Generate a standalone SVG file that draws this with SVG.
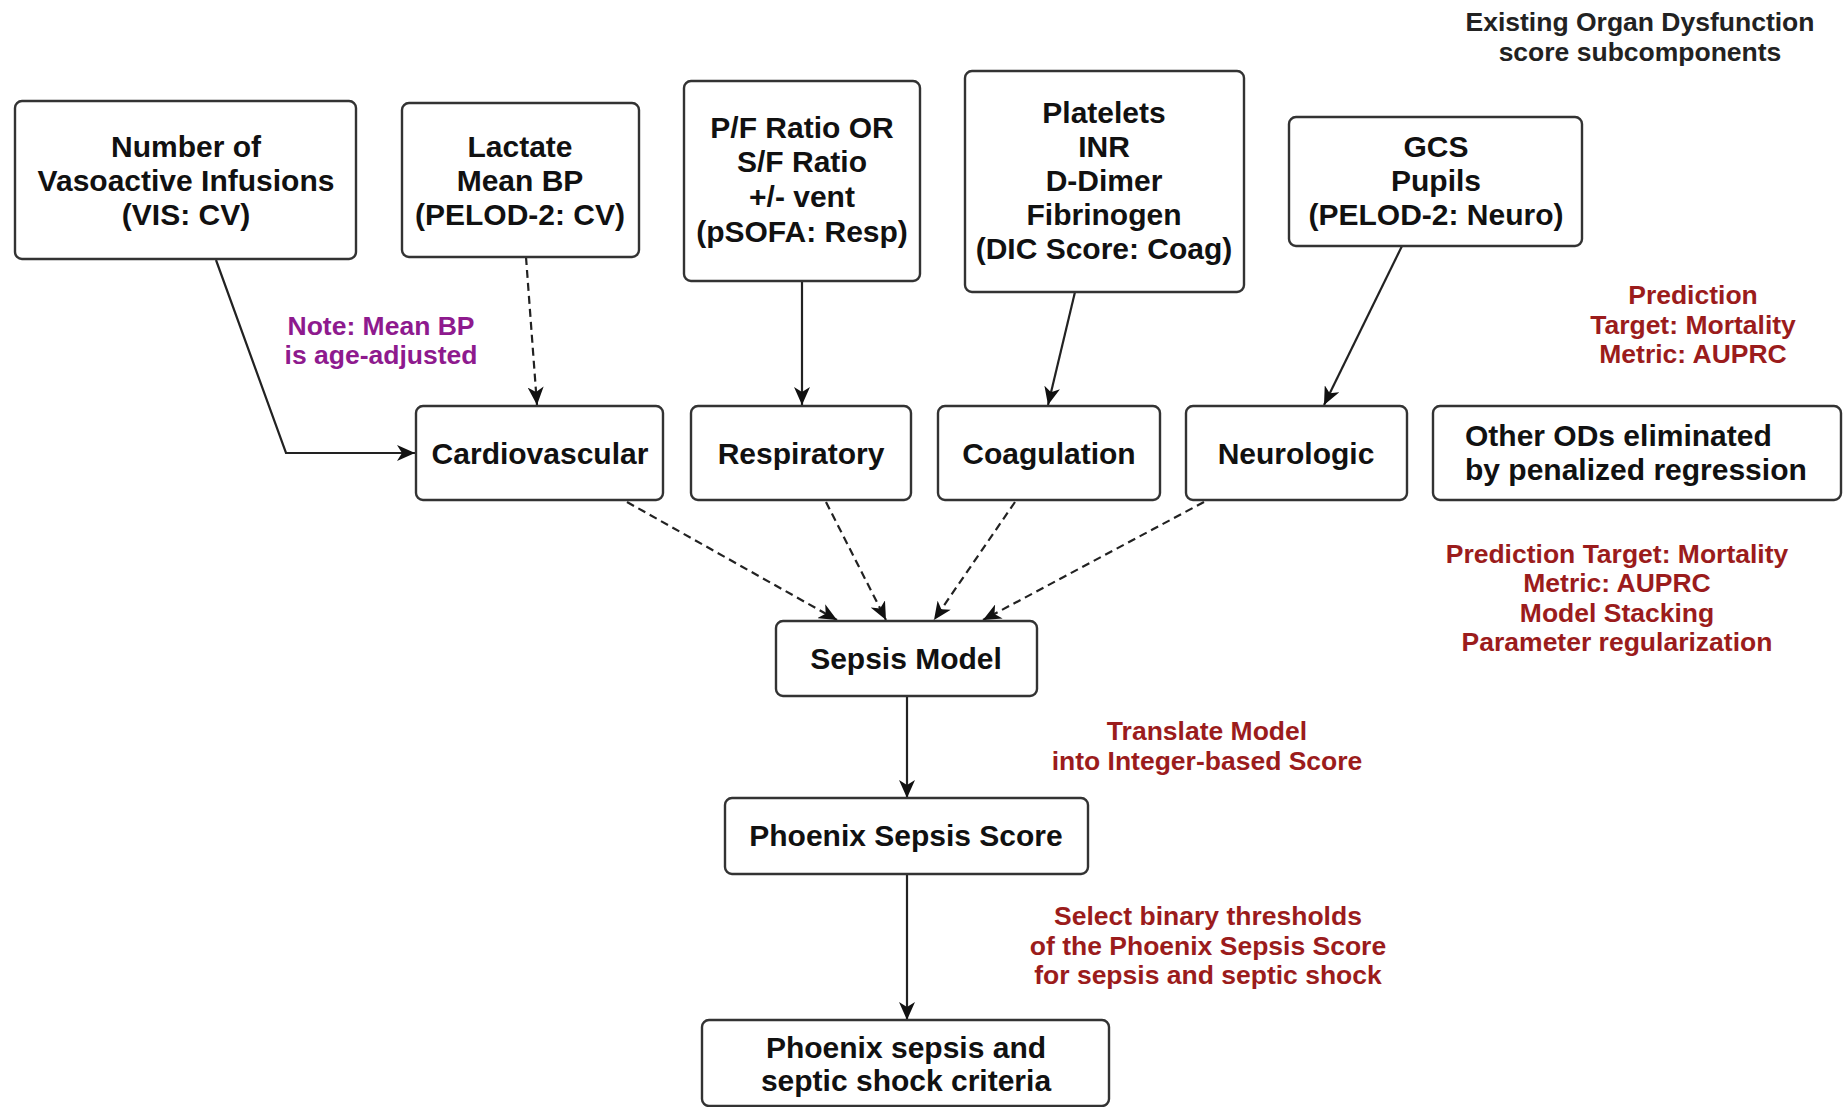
<svg xmlns="http://www.w3.org/2000/svg" width="1844" height="1107" viewBox="0 0 1844 1107">
<style>
.box{fill:#fff;stroke:#333;stroke-width:2.4}
.t{font-family:"Liberation Sans",Arial,sans-serif;font-weight:bold;font-size:30px;fill:#111;text-anchor:middle}
.l{text-anchor:start}
.red{font-family:"Liberation Sans",Arial,sans-serif;font-weight:bold;font-size:26.5px;fill:#9b1c1c;text-anchor:middle}
.pur{font-family:"Liberation Sans",Arial,sans-serif;font-weight:bold;font-size:26.5px;fill:#8e1a8e;text-anchor:middle}
.hdr{font-family:"Liberation Sans",Arial,sans-serif;font-weight:bold;font-size:26.5px;fill:#222;text-anchor:middle}
.c{fill:none;stroke:#222;stroke-width:2.2}
.d{stroke-dasharray:8 5}
</style>
<defs>
<marker id="arr" viewBox="0 0 18 16" refX="18" refY="8" markerWidth="18" markerHeight="16" orient="auto" markerUnits="userSpaceOnUse">
<path d="M0,0 L18,8 L0,16 L5,8 z" fill="#111"/>
</marker>
</defs>
<rect width="1844" height="1107" fill="#fff"/>

<g id="connectors">
<polyline class="c" points="216,260 286,453 415,453" marker-end="url(#arr)"/>
<line class="c d" x1="526" y1="257" x2="537" y2="405" marker-end="url(#arr)"/>
<line class="c" x1="802" y1="281" x2="802" y2="405" marker-end="url(#arr)"/>
<line class="c" x1="1075" y1="292" x2="1048" y2="405" marker-end="url(#arr)"/>
<line class="c" x1="1402" y1="246" x2="1324" y2="405" marker-end="url(#arr)"/>
<line class="c d" x1="627" y1="502" x2="837" y2="620" marker-end="url(#arr)"/>
<line class="c d" x1="826" y1="502" x2="886" y2="620" marker-end="url(#arr)"/>
<line class="c d" x1="1015" y1="502" x2="934" y2="620" marker-end="url(#arr)"/>
<line class="c d" x1="1204" y1="502" x2="983" y2="620" marker-end="url(#arr)"/>
<line class="c" x1="907" y1="696" x2="907" y2="798" marker-end="url(#arr)"/>
<line class="c" x1="907" y1="874" x2="907" y2="1020" marker-end="url(#arr)"/>
</g>

<g id="n-vis">
<rect class="box" x="15" y="101" width="341" height="158" rx="7"/>
<text class="t" x="186" y="157">Number of</text>
<text class="t" x="186" y="191">Vasoactive Infusions</text>
<text class="t" x="186" y="225">(VIS: CV)</text>
</g>
<g id="n-lactate">
<rect class="box" x="402" y="103" width="237" height="154" rx="7"/>
<text class="t" x="520" y="157">Lactate</text>
<text class="t" x="520" y="191">Mean BP</text>
<text class="t" x="520" y="225">(PELOD-2: CV)</text>
</g>
<g id="n-pf">
<rect class="box" x="684" y="81" width="236" height="200" rx="7"/>
<text class="t" x="802" y="138">P/F Ratio OR</text>
<text class="t" x="802" y="172">S/F Ratio</text>
<text class="t" x="802" y="207">+/- vent</text>
<text class="t" x="802" y="242">(pSOFA: Resp)</text>
</g>
<g id="n-platelets">
<rect class="box" x="965" y="71" width="279" height="221" rx="7"/>
<text class="t" x="1104" y="123">Platelets</text>
<text class="t" x="1104" y="157">INR</text>
<text class="t" x="1104" y="191">D-Dimer</text>
<text class="t" x="1104" y="225">Fibrinogen</text>
<text class="t" x="1104" y="259">(DIC Score: Coag)</text>
</g>
<g id="n-gcs">
<rect class="box" x="1289" y="117" width="293" height="129" rx="7"/>
<text class="t" x="1436" y="157">GCS</text>
<text class="t" x="1436" y="191">Pupils</text>
<text class="t" x="1436" y="225">(PELOD-2: Neuro)</text>
</g>

<g id="n-cardio">
<rect class="box" x="416" y="406" width="247" height="94" rx="7"/>
<text class="t" x="540" y="464">Cardiovascular</text>
</g>
<g id="n-resp">
<rect class="box" x="691" y="406" width="220" height="94" rx="7"/>
<text class="t" x="801" y="464">Respiratory</text>
</g>
<g id="n-coag">
<rect class="box" x="938" y="406" width="222" height="94" rx="7"/>
<text class="t" x="1049" y="464">Coagulation</text>
</g>
<g id="n-neuro">
<rect class="box" x="1186" y="406" width="221" height="94" rx="7"/>
<text class="t" x="1296" y="464">Neurologic</text>
</g>
<g id="n-other">
<rect class="box" x="1433" y="406" width="408" height="94" rx="7"/>
<text class="t l" x="1465" y="446">Other ODs eliminated</text>
<text class="t l" x="1465" y="480">by penalized regression</text>
</g>

<g id="n-sepsis-model">
<rect class="box" x="776" y="621" width="261" height="75" rx="7"/>
<text class="t" x="906" y="669">Sepsis Model</text>
</g>
<g id="n-phoenix-score">
<rect class="box" x="725" y="798" width="363" height="76" rx="7"/>
<text class="t" x="906" y="846">Phoenix Sepsis Score</text>
</g>
<g id="n-criteria">
<rect class="box" x="702" y="1020" width="407" height="86" rx="7"/>
<text class="t" x="906" y="1058">Phoenix sepsis and</text>
<text class="t" x="906" y="1091">septic shock criteria</text>
</g>

<g id="annotations">
<text class="hdr" x="1640" y="31">Existing Organ Dysfunction</text>
<text class="hdr" x="1640" y="61">score subcomponents</text>
<text class="pur" x="381" y="335">Note: Mean BP</text>
<text class="pur" x="381" y="364">is age-adjusted</text>
<text class="red" x="1693" y="304">Prediction</text>
<text class="red" x="1693" y="334">Target: Mortality</text>
<text class="red" x="1693" y="363">Metric: AUPRC</text>
<text class="red" x="1617" y="563">Prediction Target: Mortality</text>
<text class="red" x="1617" y="592">Metric: AUPRC</text>
<text class="red" x="1617" y="622">Model Stacking</text>
<text class="red" x="1617" y="651">Parameter regularization</text>
<text class="red" x="1207" y="740">Translate Model</text>
<text class="red" x="1207" y="770">into Integer-based Score</text>
<text class="red" x="1208" y="925">Select binary thresholds</text>
<text class="red" x="1208" y="955">of the Phoenix Sepsis Score</text>
<text class="red" x="1208" y="984">for sepsis and septic shock</text>
</g>
</svg>
